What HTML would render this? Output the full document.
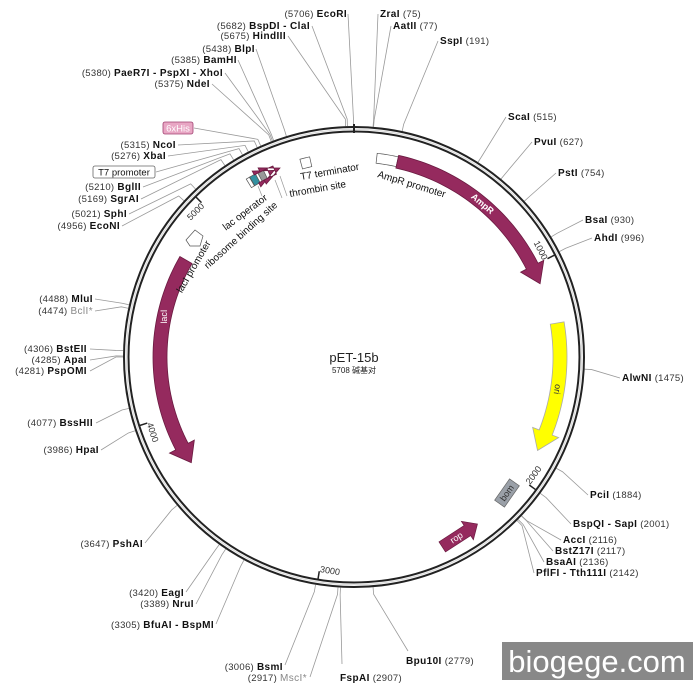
<!DOCTYPE html>
<html><head><meta charset="utf-8"><style>
body{margin:0;background:#fff}
svg{display:block}
text{font-family:"Liberation Sans","Noto Sans CJK SC",sans-serif;font-size:10px;fill:#111}
.n{font-weight:normal;fill:#333;font-size:9.5px;letter-spacing:0.3px}
.b{font-weight:bold;letter-spacing:0.4px}
.g{fill:#888;font-weight:normal;letter-spacing:0.4px}
</style></head><body>
<svg id="s" width="700" height="700" viewBox="0 0 700 700">
<g id="lines" stroke="#999" stroke-width="0.8" fill="none"></g>
<circle cx="354" cy="357" r="230" fill="none" stroke="#222" stroke-width="2"/>
<circle cx="354" cy="357" r="225.5" fill="none" stroke="#222" stroke-width="2"/>
<circle cx="354" cy="357" r="227.7" fill="none" stroke="#ddd" stroke-width="1.2"/>
<g id="feat"></g>
<line x1="354" y1="124" x2="354" y2="133" stroke="#222" stroke-width="2"/>
<g>
<text x="347" y="17" text-anchor="end"><tspan class="n">(5706)  </tspan><tspan class="b">EcoRI</tspan></text>
<text x="310" y="29" text-anchor="end"><tspan class="n">(5682)  </tspan><tspan class="b">BspDI - ClaI</tspan></text>
<text x="286" y="39" text-anchor="end"><tspan class="n">(5675)  </tspan><tspan class="b">HindIII</tspan></text>
<text x="255" y="52" text-anchor="end"><tspan class="n">(5438)  </tspan><tspan class="b">BlpI</tspan></text>
<text x="237" y="63" text-anchor="end"><tspan class="n">(5385)  </tspan><tspan class="b">BamHI</tspan></text>
<text x="223" y="76" text-anchor="end"><tspan class="n">(5380)  </tspan><tspan class="b">PaeR7I - PspXI - XhoI</tspan></text>
<text x="210" y="87" text-anchor="end"><tspan class="n">(5375)  </tspan><tspan class="b">NdeI</tspan></text>
<rect x="163" y="122" width="30" height="12" rx="2" fill="#e8a6c4" stroke="#a04070" stroke-width="0.8"/>
<text x="178" y="131.5" text-anchor="middle" style="fill:#fff;font-size:9.5px">6xHis</text>
<text x="176" y="148" text-anchor="end"><tspan class="n">(5315)  </tspan><tspan class="b">NcoI</tspan></text>
<text x="166" y="159" text-anchor="end"><tspan class="n">(5276)  </tspan><tspan class="b">XbaI</tspan></text>
<rect x="93" y="166" width="62" height="12" rx="2" fill="#fff" stroke="#666" stroke-width="0.8"/>
<text x="124" y="175.5" text-anchor="middle" style="font-size:9.5px">T7 promoter</text>
<text x="141" y="190" text-anchor="end"><tspan class="n">(5210)  </tspan><tspan class="b">BglII</tspan></text>
<text x="139" y="202" text-anchor="end"><tspan class="n">(5169)  </tspan><tspan class="b">SgrAI</tspan></text>
<text x="127" y="217" text-anchor="end"><tspan class="n">(5021)  </tspan><tspan class="b">SphI</tspan></text>
<text x="120" y="229" text-anchor="end"><tspan class="n">(4956)  </tspan><tspan class="b">EcoNI</tspan></text>
<text x="93" y="302" text-anchor="end"><tspan class="n">(4488)  </tspan><tspan class="b">MluI</tspan></text>
<text x="93" y="314" text-anchor="end"><tspan class="n">(4474)  </tspan><tspan class="g">BclI*</tspan></text>
<text x="87" y="352" text-anchor="end"><tspan class="n">(4306)  </tspan><tspan class="b">BstEII</tspan></text>
<text x="87" y="363" text-anchor="end"><tspan class="n">(4285)  </tspan><tspan class="b">ApaI</tspan></text>
<text x="87" y="374" text-anchor="end"><tspan class="n">(4281)  </tspan><tspan class="b">PspOMI</tspan></text>
<text x="93" y="426" text-anchor="end"><tspan class="n">(4077)  </tspan><tspan class="b">BssHII</tspan></text>
<text x="99" y="453" text-anchor="end"><tspan class="n">(3986)  </tspan><tspan class="b">HpaI</tspan></text>
<text x="143" y="547" text-anchor="end"><tspan class="n">(3647)  </tspan><tspan class="b">PshAI</tspan></text>
<text x="184" y="596" text-anchor="end"><tspan class="n">(3420)  </tspan><tspan class="b">EagI</tspan></text>
<text x="194" y="607" text-anchor="end"><tspan class="n">(3389)  </tspan><tspan class="b">NruI</tspan></text>
<text x="214" y="628" text-anchor="end"><tspan class="n">(3305)  </tspan><tspan class="b">BfuAI - BspMI</tspan></text>
<text x="283" y="670" text-anchor="end"><tspan class="n">(3006)  </tspan><tspan class="b">BsmI</tspan></text>
<text x="307" y="681" text-anchor="end"><tspan class="n">(2917)  </tspan><tspan class="g">MscI*</tspan></text>
<text x="340" y="681"><tspan class="b">FspAI</tspan><tspan class="n">  (2907)</tspan></text>
<text x="406" y="664"><tspan class="b">Bpu10I</tspan><tspan class="n">  (2779)</tspan></text>
<text x="380" y="17"><tspan class="b">ZraI</tspan><tspan class="n">  (75)</tspan></text>
<text x="393" y="29"><tspan class="b">AatII</tspan><tspan class="n">  (77)</tspan></text>
<text x="440" y="44"><tspan class="b">SspI</tspan><tspan class="n">  (191)</tspan></text>
<text x="508" y="120"><tspan class="b">ScaI</tspan><tspan class="n">  (515)</tspan></text>
<text x="534" y="145"><tspan class="b">PvuI</tspan><tspan class="n">  (627)</tspan></text>
<text x="558" y="176"><tspan class="b">PstI</tspan><tspan class="n">  (754)</tspan></text>
<text x="585" y="223"><tspan class="b">BsaI</tspan><tspan class="n">  (930)</tspan></text>
<text x="594" y="241"><tspan class="b">AhdI</tspan><tspan class="n">  (996)</tspan></text>
<text x="622" y="381"><tspan class="b">AlwNI</tspan><tspan class="n">  (1475)</tspan></text>
<text x="590" y="498"><tspan class="b">PciI</tspan><tspan class="n">  (1884)</tspan></text>
<text x="573" y="527"><tspan class="b">BspQI - SapI</tspan><tspan class="n">  (2001)</tspan></text>
<text x="563" y="543"><tspan class="b">AccI</tspan><tspan class="n">  (2116)</tspan></text>
<text x="555" y="554"><tspan class="b">BstZ17I</tspan><tspan class="n">  (2117)</tspan></text>
<text x="546" y="565"><tspan class="b">BsaAI</tspan><tspan class="n">  (2136)</tspan></text>
<text x="536" y="576"><tspan class="b">PflFI - Tth111I</tspan><tspan class="n">  (2142)</tspan></text>
</g>
<text x="301" y="180" transform="rotate(-10 301 180)" style="font-size:10px">T7 terminator</text>
<text x="290" y="197" transform="rotate(-10 290 197)" style="font-size:10px">thrombin site</text>
<text x="377" y="177" transform="rotate(17 377 177)" style="font-size:10px">AmpR promoter</text>
<text x="268" y="199" text-anchor="end" transform="rotate(-37 268 199)" style="font-size:10px">lac operator</text>
<text x="278" y="206" text-anchor="end" transform="rotate(-42 278 206)" style="font-size:10px">ribosome binding site</text>
<text x="211" y="243" text-anchor="end" transform="rotate(-60 211 243)" style="font-size:10px">lacI promoter</text>
<polyline points="258,186 262,196 M0,0" fill="none" stroke="#999" stroke-width="0.7"/>
<line x1="275" y1="180" x2="282" y2="198" stroke="#999" stroke-width="0.7"/>
<line x1="280" y1="176" x2="287" y2="196" stroke="#999" stroke-width="0.7"/>
<polygon points="186,240 195,230 203,236 200,246 190,246" fill="#fff" stroke="#555" stroke-width="0.7"/>
<text x="354" y="362" text-anchor="middle" style="font-size:13px;fill:#222">pET-15b</text>
<text x="354" y="373" text-anchor="middle" style="font-size:8px;fill:#222">5708 碱基对</text>
<rect x="502" y="642" width="191" height="38" fill="#888"/>
<text x="597" y="672" text-anchor="middle" style="font-size:31px;fill:#fff">biogege.com</text>
</svg>
<script>
var cx=354,cy=357,N=5708,NS="http://www.w3.org/2000/svg";
function P(a,r){var t=a*Math.PI/180;return [cx+r*Math.sin(t),cy-r*Math.cos(t)];}
function ang(bp){return bp/N*360;}
function el(tag,at,par){var e=document.createElementNS(NS,tag);for(var k in at)e.setAttribute(k,at[k]);document.getElementById(par).appendChild(e);return e;}
var L=[[5706,348,14],[5682,312,26],[5675,288,36],[5438,256,49],[5385,238,60],[5380,225,73],[5375,212,84],[5330,194,128],[5315,178,145],[5276,168,156],[5250,156,172],[5210,143,187],[5169,141,199],[5021,129,214],[4956,122,226],
[4488,95,299],[4474,95,311],[4306,90,349],[4285,90,360],[4281,90,371],[4077,96,423],[3986,101,450],[3647,145,543],[3420,186,592],[3389,196,604],[3305,216,624],[3006,285,665],[2917,310,677],[2907,342,664],[2779,408,651],
[75,378,14],[77,391,26],[191,438,41],[515,506,117],[627,532,142],[754,556,173],[930,583,220],[996,592,238],[1475,620,378],[1884,588,495],[2001,571,524],[2116,561,540],[2117,553,551],[2136,544,562],[2142,534,573]];
L.forEach(function(l){var p=P(ang(l[0]),231),q=P(ang(l[0]),238);el("polyline",{points:p.join(",")+" "+q.join(",")+" "+l[1]+","+l[2]},"lines");});
function arrow(a1,a2,r,w,fill,stroke,dir){var s="",i,n=40,h=dir*5.5,ae=a2-h;
 for(i=0;i<=n;i++){var a=a1+(ae-a1)*i/n;s+=P(a,r+w/2).join(",")+" ";}
 s+=P(ae,r+w).join(",")+" "+P(a2,r).join(",")+" "+P(ae,r-w).join(",")+" ";
 for(i=n;i>=0;i--){var a=a1+(ae-a1)*i/n;s+=P(a,r-w/2).join(",")+" ";}
 el("polygon",{points:s,fill:fill,stroke:stroke,"stroke-width":0.8},"feat");}
function box(a1,a2,r,w,fill){var s="",n=10,i;for(i=0;i<=n;i++)s+=P(a1+(a2-a1)*i/n,r+w/2).join(",")+" ";for(i=n;i>=0;i--)s+=P(a1+(a2-a1)*i/n,r-w/2).join(",")+" ";el("polygon",{points:s,fill:fill,stroke:"#555","stroke-width":0.7},"feat");}
box(6.5,12.5,200,10,"#fff");
arrow(12.5,68.5,200,13,"#952a5e","#6a1a40",1);
arrow(80.5,117,206,14,"#ffff00","#aaa",1);
arrow(300,237,194,14,"#952a5e","#6a1a40",-1);
box(-31.2,-30.2,203,10,"#fff");box(-30.1,-28.3,203,10,"#3390a0");box(-27.6,-25.9,203,10,"#999");
arrow(-24.8,-23.2,203,9,"#952a5e","#6a1a40",1);arrow(-23,-21.4,203,9,"#952a5e","#6a1a40",1);
box(-15.3,-12.5,200,10,"#fff");
[[1000,"1000"],[2000,"2000"],[3000,"3000"],[4000,"4000"],[5000,"5000"]].forEach(function(t){var a=ang(t[0]),p=P(a,225),q=P(a,217),lp=P(a-2.8,215);
 el("line",{x1:p[0],y1:p[1],x2:q[0],y2:q[1],stroke:"#222","stroke-width":1.5},"feat");
 var rot=(a>90&&a<270)?a-180:a;
 var tx=el("text",{x:lp[0],y:lp[1],transform:"rotate("+rot+" "+lp[0]+" "+lp[1]+")","text-anchor":"middle","dominant-baseline":"central",style:"font-size:9px;fill:#333"},"feat");tx.textContent=t[1];});
el("rect",{x:-13,y:-6,width:26,height:12,fill:"#9aa0a8",stroke:"#666","stroke-width":0.7,transform:"translate(507,493) rotate(-55)"},"feat");
el("polygon",{points:"-20,-6 10,-6 10,-11 22,0 10,11 10,6 -20,6",fill:"#952a5e",stroke:"#6a1a40","stroke-width":0.7,transform:"translate(459,536) rotate(-33)"},"feat");
var t1=el("text",{x:0,y:3,"text-anchor":"middle",style:"font-size:9px;fill:#333",transform:"translate(507,493) rotate(-55)"},"feat");t1.textContent="bom";
var t2=el("text",{x:-3,y:3,"text-anchor":"middle",style:"font-size:9px;fill:#fff",transform:"translate(459,536) rotate(-33)"},"feat");t2.textContent="rop";
var a=P(40,200);var t3=el("text",{x:a[0],y:a[1]+3,"text-anchor":"middle",style:"font-size:9px;fill:#fff;font-weight:bold",transform:"rotate(40 "+a[0]+" "+a[1]+")"},"feat");t3.textContent="AmpR";
a=P(99,206);var t4=el("text",{x:a[0],y:a[1]+3,"text-anchor":"middle",style:"font-size:9px;fill:#333",transform:"rotate(99 "+a[0]+" "+a[1]+")"},"feat");t4.textContent="ori";
a=P(282,194);var t5=el("text",{x:a[0],y:a[1]+3,"text-anchor":"middle",style:"font-size:9px;fill:#fff",transform:"rotate(-90 "+a[0]+" "+a[1]+")"},"feat");t5.textContent="lacI";
</script>
</body></html>
